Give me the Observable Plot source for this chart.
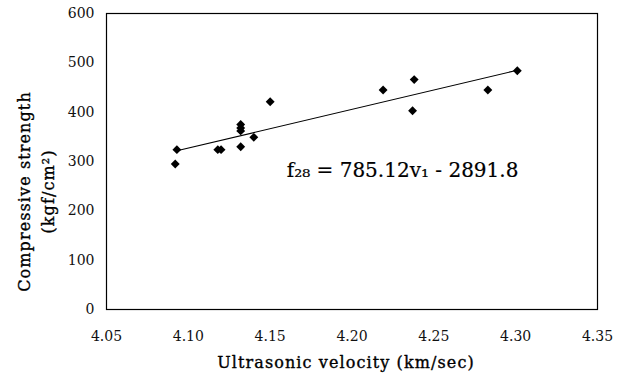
<!DOCTYPE html>
<html>
<head>
<meta charset="utf-8">
<script src="https://cdn.jsdelivr.net/npm/d3@7"></script>
<script src="https://cdn.jsdelivr.net/npm/@observablehq/plot@0.6"></script>
<style>
  html, body { margin: 0; padding: 0; background: #fff; }
  svg { display: block; }
</style>
</head>
<body>
<div id="chart"></div>
<script>
// Data
const velocity = [4.092, 4.093, 4.118, 4.120, 4.132, 4.132, 4.132, 4.132, 4.140, 4.150, 4.219, 4.238, 4.237, 4.283, 4.301];
const strength = [295, 324, 324, 324, 330, 362, 368, 375, 349, 421, 445, 466, 403, 445, 484];
// Regression line endpoints
const fitX = [4.093, 4.301];
const fitY = [321.7, 485.0];
const xTicks = [4.05, 4.10, 4.15, 4.20, 4.25, 4.30, 4.35];
const yTicks = [0, 100, 200, 300, 400, 500, 600];
const xTitle = "Ultrasonic velocity (km/sec)";
const yTitle1 = "Compressive strength";
const yTitle2 = "(kgf/cm\u00B2)";
const equation = "f\u2082\u2088 = 785.12v\u2081 - 2891.8";

const points = velocity.map((v, i) => ({v, s: strength[i]}));
const fit = fitX.map((v, i) => ({v, s: fitY[i]}));

const font = "'DejaVu Serif', serif";
const titleStyle = {fontSize: 16, fill: "#000", stroke: "#000", strokeWidth: 0.35, fontFamily: font, textAnchor: "middle", lineAnchor: "middle"};

const chart = Plot.plot({
  width: 627,
  height: 374,
  marginLeft: 106,
  marginRight: 30,
  marginTop: 13,
  marginBottom: 65,
  style: {fontFamily: font, fontSize: "14px", color: "#111", background: "#fff"},
  x: {domain: [4.05, 4.35], ticks: xTicks, tickFormat: d3.format(".2f"), tickSize: 0, tickPadding: 22, label: null},
  y: {domain: [0, 600], ticks: yTicks, tickSize: 0, tickPadding: 12, label: null},
  marks: [
    Plot.frame({stroke: "#000", strokeWidth: 1.2}),
    Plot.line(fit, {x: "v", y: "s", stroke: "#000", strokeWidth: 1.1}),
    Plot.dot(points, {x: "v", y: "s", symbol: "diamond2", r: 4, fill: "#000", stroke: "none"}),
    Plot.text([equation], {x: 4.2309, y: 282, text: d => d, fontSize: 20, fill: "#000", stroke: "#000", strokeWidth: 0.2, fontFamily: font}),
    Plot.text([xTitle], {frameAnchor: "bottom", dy: 53, dx: -6, text: d => d, ...titleStyle}),
    Plot.text([yTitle1], {frameAnchor: "left", rotate: -90, dx: -82, dy: 30, text: d => d, ...titleStyle}),
    Plot.text([yTitle2], {frameAnchor: "left", rotate: -90, dx: -58, dy: 30, text: d => d, ...titleStyle})
  ]
});
d3.select(chart).selectAll("text")
  .filter(function() { return [xTitle, yTitle1, yTitle2].includes(this.textContent); })
  .attr("letter-spacing", "1.1");
document.getElementById("chart").append(chart);
</script>
</body>
</html>
